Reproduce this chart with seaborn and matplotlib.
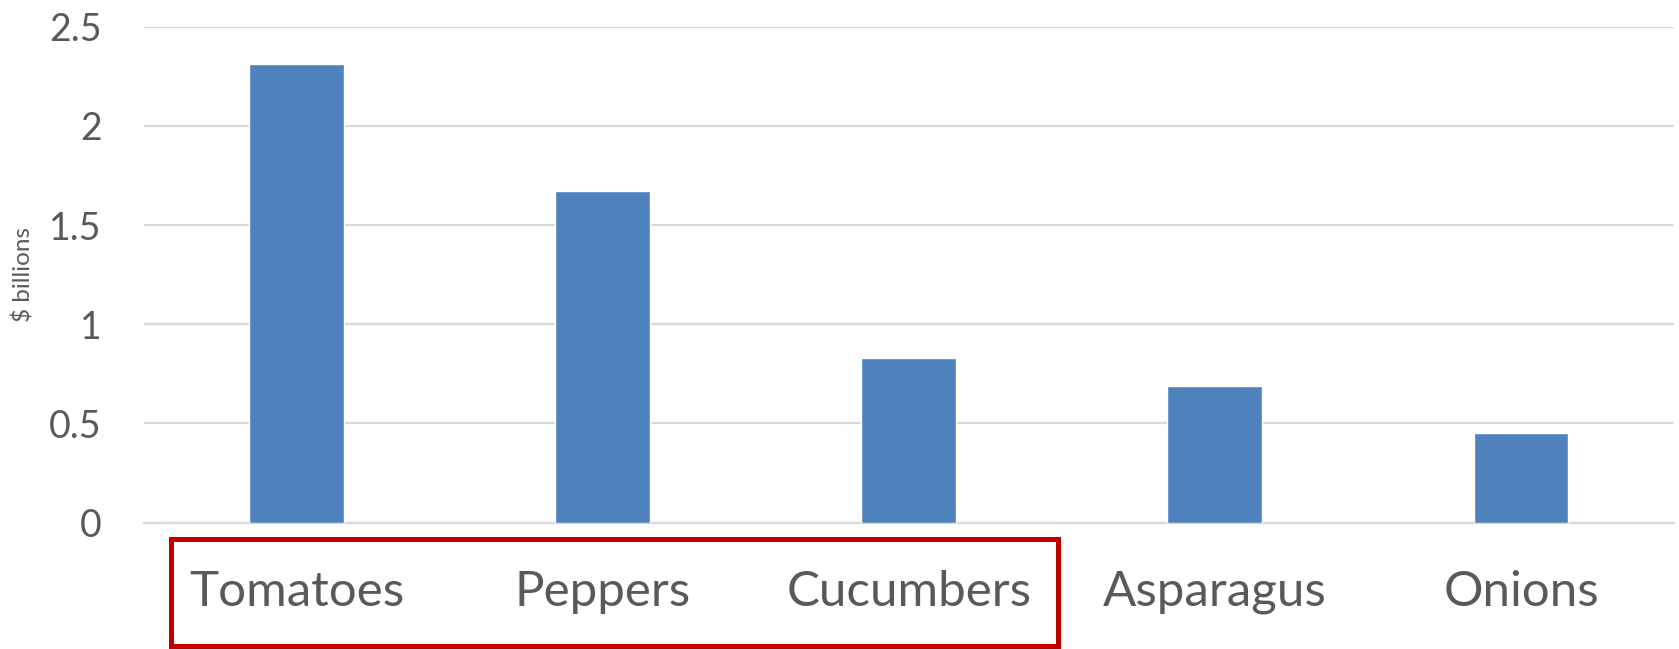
import matplotlib
matplotlib.use("Agg")
import matplotlib.pyplot as plt
import matplotlib.transforms as mtransforms
from matplotlib.patches import Rectangle
import seaborn as sns
import pandas as pd

crops = ["Tomatoes", "Peppers", "Cucumbers", "Asparagus", "Onions"]
values = [2.31, 1.67, 0.83, 0.69, 0.45]
yticks = [0, 0.5, 1, 1.5, 2, 2.5]
ytick_labels = ["0", "0.5", "1", "1.5", "2", "2.5"]

df = pd.DataFrame({"crop": crops, "value": values})

sns.set_style("white")
plt.rcParams["font.family"] = ["Lato", "DejaVu Sans"]

fig = plt.figure(figsize=(16.79, 6.49), dpi=100)
ax = fig.add_axes([143.5 / 1679, 1 - 522.5 / 649, (1674 - 143.5) / 1679, (522.5 - 26.8) / 649])

sns.barplot(data=df, x="crop", y="value", color="#4F81BD", saturation=1, width=0.31, ax=ax, zorder=3)

ax.set_ylim(0, 2.5)
ax.set_xlim(-0.5, len(crops) - 0.5)
ax.set_yticks(yticks)
ax.set_yticklabels(ytick_labels)
ax.yaxis.grid(True, color="#D9D9D9", linewidth=1.6, zorder=0)
ax.set_axisbelow(True)
for s in ["top", "right", "left"]:
    ax.spines[s].set_visible(False)
ax.spines["bottom"].set_color("#D9D9D9")
ax.spines["bottom"].set_linewidth(1.6)

ax.tick_params(axis="y", length=0, pad=30, labelsize=27, labelcolor="#595959")
ax.tick_params(axis="x", length=0, pad=34, labelsize=35.5, labelcolor="#595959")
ax.set_xlabel("")
ax.set_ylabel("$ billions", fontsize=17.5, color="#595959")
ax.yaxis.set_label_coords(-0.071, 0.5)

# red highlight box around the first three categories
trans = mtransforms.blended_transform_factory(ax.transData, ax.transAxes)
box = Rectangle((-0.41, -0.249), 2.898, 0.216, transform=trans, fill=False,
                edgecolor="#C00000", linewidth=3.6, clip_on=False, zorder=5)
ax.add_patch(box)

fig.savefig("out.png", dpi=100)
